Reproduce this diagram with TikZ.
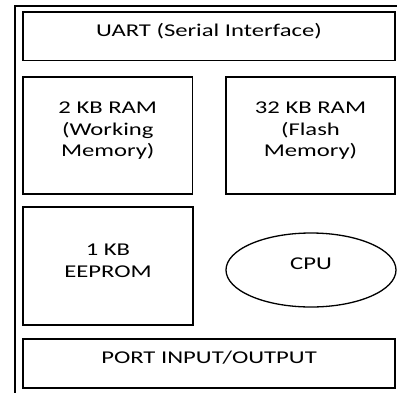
\documentclass[tikz,border=0pt]{standalone}
\usepackage{fontspec}
\newfontfamily\blockfont[FakeStretch=1.37]{Carlito}
\usetikzlibrary{shapes.geometric}
\begin{document}
\begin{tikzpicture}[x=1pt, y=-1pt,
  block/.style={draw, line width=1.3pt, inner sep=0pt, align=center,
    font=\blockfont\fontsize{18}{21.5}\selectfont},
  oneline/.style={text height=13pt, text depth=13.4pt}]
\useasboundingbox (0,0) rectangle (397,392);
\clip (0,0) rectangle (397,392);

% chip outline
\draw[line width=1.8pt] (15,6) rectangle (400,400);

\node[block, oneline, minimum width=372pt, minimum height=48.5pt] (uart) at (209,36.2) {UART (Serial Interface)};

\node[block, text depth=12pt, minimum width=169.5pt, minimum height=117pt] (ram) at (107.75,135.5) {2 KB RAM\\(Working\\Memory)};
\node[block, text depth=12pt, minimum width=169pt, minimum height=117pt] (flash) at (310.5,135.5) {32 KB RAM\\(Flash\\Memory)};

\node[block, text depth=11pt, minimum width=170pt, minimum height=118pt] (eeprom) at (108,266) {1 KB\\EEPROM};
\node[block, oneline, ellipse, minimum width=170pt, minimum height=74pt] (cpu) at (311,270) {CPU};

\node[block, oneline, minimum width=372pt, minimum height=49pt] (port) at (209,363.5) {PORT INPUT/OUTPUT};

\end{tikzpicture}
\end{document}
